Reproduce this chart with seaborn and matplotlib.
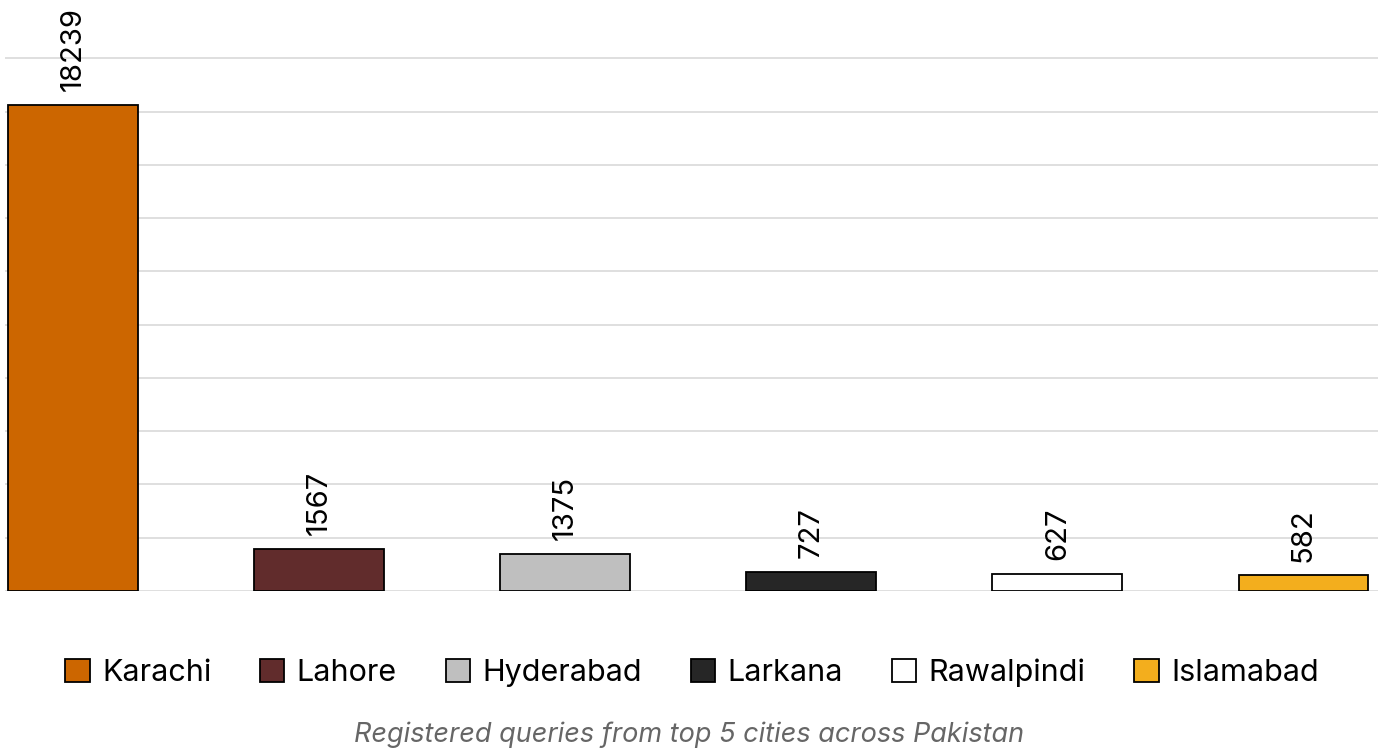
import matplotlib
matplotlib.use("Agg")
import matplotlib.pyplot as plt
import seaborn as sns
import pandas as pd

cities = ["Karachi", "Lahore", "Hyderabad", "Larkana", "Rawalpindi", "Islamabad"]
queries = [18239, 1567, 1375, 727, 627, 582]
colors = ["#CC6600", "#612C2C", "#BFBFBF", "#262626", "#FFFFFF", "#F3AE1D"]
caption = "Registered queries from top 5 cities across Pakistan"

sns.set_theme(style="white")
plt.rcParams["font.family"] = ["Inter", "DejaVu Sans"]

df = pd.DataFrame({"city": cities, "queries": queries})

W, H = 1384, 753
fig = plt.figure(figsize=(W / 100, H / 100), dpi=100)
ax = fig.add_axes([5 / W, 1 - 591 / H, (1378 - 5) / W, (591 - 5) / H])

sns.barplot(data=df, x="city", y="queries", hue="city", palette=colors,
            order=cities, hue_order=cities, dodge=False, width=0.528,
            saturation=1, edgecolor="black", linewidth=1.3, legend=True,
            ax=ax, zorder=3)

ax.set_xlim(-0.278, 5.303)
ax.set_ylim(0, 22000)
ax.set_yticks(range(0, 20001, 2000))
ax.yaxis.grid(True, color="#d9d9d9", linewidth=1.2, zorder=0)
ax.set_axisbelow(True)
ax.tick_params(left=False, bottom=False, labelleft=False, labelbottom=False)
ax.set_xlabel("")
ax.set_ylabel("")
for s in ax.spines.values():
    s.set_visible(False)

for cont in ax.containers:
    ax.bar_label(cont, fmt="%d", rotation=90, padding=10, fontsize=21, color="black")

handles, labels = ax.get_legend_handles_labels()
leg = ax.legend(handles, labels, loc="center", bbox_to_anchor=(0.5, 1 - 673 / H),
                bbox_transform=fig.transFigure, ncol=6, frameon=False, fontsize=22,
                handlelength=0.8, handleheight=0.8, handletextpad=0.4, columnspacing=1.6)
for t in leg.get_texts():
    t.set_color("black")

fig.text(689 / W, 1 - 735 / H, caption, ha="center", va="center",
         fontsize=19.5, style="italic", color="#666666")

fig.savefig("out.png", dpi=100)
